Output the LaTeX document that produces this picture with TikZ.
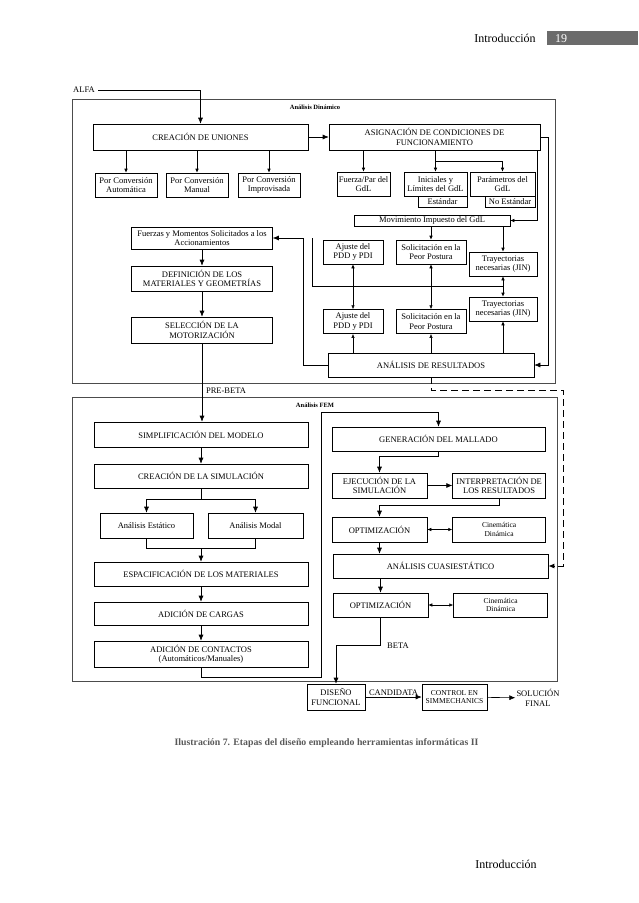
\documentclass[tikz,border=0pt]{standalone}
\usepackage{fontspec}
\setmainfont{Liberation Serif}
\usetikzlibrary{positioning, calc, arrows.meta}
\tikzset{
  box/.style={draw, line width=0.6pt, align=center, inner sep=1pt},
  wide/.style={box, minimum width=214, minimum height=24},
  half/.style={box, minimum width=95, minimum height=25},
  small/.style={box, minimum width=62, minimum height=24},
  arr/.style={line width=0.6pt, -{Latex[length=6pt, width=5pt]}},
  sarr/.style={line width=0.6pt, -{Latex[length=4pt, width=3.5pt]}},
  darr/.style={line width=0.6pt, {Latex[length=4pt, width=3.5pt]}-{Latex[length=4pt, width=3.5pt]}},
  frame/.style={draw=black!70, line width=1pt},
  tag/.style={font=\fontsize{6.5}{7}\selectfont\bfseries}
}

\begin{document}
\begin{tikzpicture}[x=1pt, y=-1pt, font=\fontsize{8.5}{9.5}\selectfont]
  \useasboundingbox (0,0) rectangle (638,903);

  \fill[black!58] (547,31) rectangle (638,45);
  \node[font=\fontsize{12}{14}\selectfont, anchor=base] (hd) at (505,42) {Introducción};
  \node[font=\fontsize{12}{14}\selectfont, anchor=base, text=white] (pg) at (561,42) {19};

  \node (alfa) at (84,90) {ALFA};
  \draw[frame] (72,99) rectangle (555,383);
  \node[tag] (tdin) at (315,107) {Análisis Dinámico};

  \node[wide, minimum width=215, minimum height=26] (cu) at (200.5,137) {CREACIÓN DE UNIONES};
  \node[small] (pca) at (126,185) {Por Conversión\\Automática};
  \node[small] (pcm) at (197,185) {Por Conversión\\Manual};
  \node[small] (pci) at (269,185) {Por Conversión\\Improvisada};

  \node[wide, minimum width=211, minimum height=26] (asig) at (434.5,137) {ASIGNACIÓN DE CONDICIONES DE\\FUNCIONAMIENTO};
  \node[small, minimum width=53] (fp) at (363.5,184) {Fuerza/Par del\\GdL};
  \node[small, minimum width=63] (ini) at (435.5,184) {Iniciales y\\Límites del GdL};
  \node[box, minimum width=49, minimum height=11, inner sep=0pt] (est) at (442.5,201.5) {Estándar};
  \node[small, minimum width=65] (par) at (502.5,184) {Parámetros del\\GdL};
  \node[box, minimum width=50, minimum height=11, inner sep=0pt] (noest) at (510,201.5) {No Estándar};
  \node[box, minimum width=156, minimum height=11, inner sep=0pt] (mov) at (432,220.5) {Movimiento Impuesto del GdL};

  \node[small, minimum width=60] (aj1) at (353,252) {Ajuste del\\PDD y PDI};
  \node[small, minimum width=70] (so1) at (431,252) {Solicitación en la\\Peor Postura};
  \node[small, minimum width=68] (tr1) at (503,264) {Trayectorias\\necesarias (JIN)};
  \node[small, minimum width=60, below=45pt of aj1] (aj2) {Ajuste del\\PDD y PDI};
  \node[small, minimum width=70, below=45pt of so1] (so2) {Solicitación en la\\Peor Postura};
  \node[small, minimum width=68] (tr2) at (503,309) {Trayectorias\\necesarias (JIN)};
  \node[wide, minimum width=206] (ar) at (431,365) {ANÁLISIS DE RESULTADOS};

  \node[box, minimum width=141, minimum height=22] (fm) at (202,238) {Fuerzas y Momentos Solicitados a los\\Accionamientos};
  \node[box, minimum width=141, minimum height=25] (def) at (202,278.5) {DEFINICIÓN DE LOS\\MATERIALES Y GEOMETRÍAS};
  \node[box, minimum width=141, minimum height=26] (sel) at (202,330) {SELECCIÓN DE LA\\MOTORIZACIÓN};

  \node (pb) at (226,391) {PRE-BETA};
  \draw[frame] (72,397) rectangle (557,681);
  \node[tag] (tfem) at (315,405) {Análisis FEM};

  \node[wide, minimum height=25] (simp) at (201,434.5) {SIMPLIFICACIÓN DEL MODELO};
  \node[wide] (csim) at (201,476) {CREACIÓN DE LA SIMULACIÓN};
  \node[half, minimum width=93] (aest) at (146.5,525.5) {Análisis Estático};
  \node[half] (amod) at (255.5,525.5) {Análisis Modal};
  \node[wide] (esp) at (201,574) {ESPACIFICACIÓN DE LOS MATERIALES};
  \node[wide, minimum height=23] (carg) at (201,613.5) {ADICIÓN DE CARGAS};
  \node[wide, minimum height=26] (cont) at (201,654) {ADICIÓN DE CONTACTOS\\(Automáticos/Manuales)};

  \node[wide, minimum width=213] (gen) at (438.5,439) {GENERACIÓN DEL MALLADO};
  \node[half] (ejec) at (379.5,485.5) {EJECUCIÓN DE LA\\SIMULACIÓN};
  \node[half, minimum width=93, right=25pt of ejec] (interp) {INTERPRETACIÓN DE\\LOS RESULTADOS};
  \node[half] (opt1) at (379.5,529.5) {OPTIMIZACIÓN};
  \node[half, minimum width=93, right=25pt of opt1, font=\fontsize{7.5}{8.5}\selectfont] (cd1) {Cinemática\\Dinámica};
  \node[wide, minimum width=215] (cuasi) at (440.5,566) {ANÁLISIS CUASIESTÁTICO};
  \node[half, minimum height=24] (opt2) at (380.5,605) {OPTIMIZACIÓN};
  \node[half, minimum width=94, minimum height=24, right=25pt of opt2, font=\fontsize{7.5}{8.5}\selectfont] (cd2) {Cinemática\\Dinámica};
  \node (bt) at (398,646) {BETA};

  \node[box, minimum width=58, minimum height=26] (dis) at (336,697) {DISEÑO\\FUNCIONAL};
  \node[box, minimum width=65, minimum height=26, font=\fontsize{7.5}{8.5}\selectfont] (ctrl) at (454.5,697) {CONTROL EN\\SIMMECHANICS};
  \node[align=center, inner sep=1pt] (sol) at (538,698) {SOLUCIÓN\\FINAL};

  \node[font=\fontsize{9.8}{11}\selectfont\bfseries, text=black!65] (cap) at (326.5,743) {Ilustración 7. Etapas del diseño empleando herramientas informáticas II};
  \node[font=\fontsize{12}{14}\selectfont, anchor=base] (ft) at (506,868) {Introducción};

  \draw[arr] (alfa.east) -| (cu.north);
  \draw[arr] (cu.east) -- (asig.west);
  \draw[sarr] (cu.south -| pca.north) -- (pca.north);
  \draw[sarr] (cu.south -| pcm.north) -- (pcm.north);
  \draw[sarr] (cu.south -| pci.north) -- (pci.north);

  \coordinate (b1) at ([yshift=-11pt]asig.south);
  \draw[sarr] (asig.south -| fp.north) -- (fp.north);
  \draw[sarr] (asig.south -| ini.north) -- (ini.north);
  \draw[sarr] (b1 -| ini.north) -| (par.north);
  \draw[sarr] ([xshift=-3pt]asig.south east) |- (mov.east);
  \draw[arr] (asig.east) -- ++(8,0) |- (ar.east);
  \draw[sarr] (mov.south -| so1.north) -- (so1.north);
  \draw[sarr] (mov.south -| tr1.north) -- (tr1.north);

  \draw[darr] (aj1) -- (aj2);
  \draw[darr] (so1) -- (so2);
  \draw[darr] (tr1) -- (tr2);
  \draw[sarr] (ar.north -| aj2.south) -- (aj2.south);
  \draw[sarr] (ar.north -| so2.south) -- (so2.south);
  \draw[sarr] (ar.north -| tr2.south) -- (tr2.south);

  \coordinate (k1) at ($(tr1.south)!0.5!(tr2.north)$);
  \draw[line width=0.6pt] (k1) -| (312,238);
  \draw[arr] (ar.west) -| (303,238) -- (fm.east);
  \draw[arr] (fm) -- (def);
  \draw[arr] (def) -- (sel);
  \draw[arr] (sel.south) -- (sel.south |- simp.north);

  \draw[arr] (simp) -- (csim);
  \coordinate (b2) at ([yshift=-11pt]csim.south);
  \draw[line width=0.6pt] (csim.south) -- (b2);
  \draw[arr] (b2) -| (aest.north);
  \draw[arr] (b2) -| (amod.north);
  \coordinate (b3) at ([yshift=13pt]esp.north);
  \draw[line width=0.6pt] (aest.south) |- (b3) -| (amod.south);
  \draw[arr] (b3) -- (esp.north);
  \draw[arr] (esp) -- (carg);
  \draw[arr] (carg) -- (cont);

  \coordinate (c1) at (321,412);
  \draw[arr] (cont.south) -- ++(0,10) -| (c1) -| (gen.north);
  \draw[arr] (gen.south) -- ++(0,5) -| (ejec.north);
  \draw[arr] (ejec) -- (interp);
  \draw[arr] (interp.south) -- ++(0,7) -| (opt1.north);
  \draw[darr] (opt1) -- (cd1);
  \draw[arr] (opt1.south) -- (opt1.south |- cuasi.north);
  \draw[arr] (cuasi.south -| opt2.north) -- (opt2.north);
  \draw[darr] (opt2) -- (cd2);
  \draw[arr] (opt2.south) -- ++(0,28) -| (dis.north);
  \draw[arr] (dis) -- node[above, inner sep=1.5pt] {CANDIDATA} (ctrl);
  \draw[arr] (ctrl) -- (sol);

  \draw[arr, line width=1pt, dash pattern=on 7pt off 4pt] (ar.south) -- ++(0,13) -| ([xshift=15pt]cuasi.east) -- (cuasi.east);
\end{tikzpicture}
\end{document}
